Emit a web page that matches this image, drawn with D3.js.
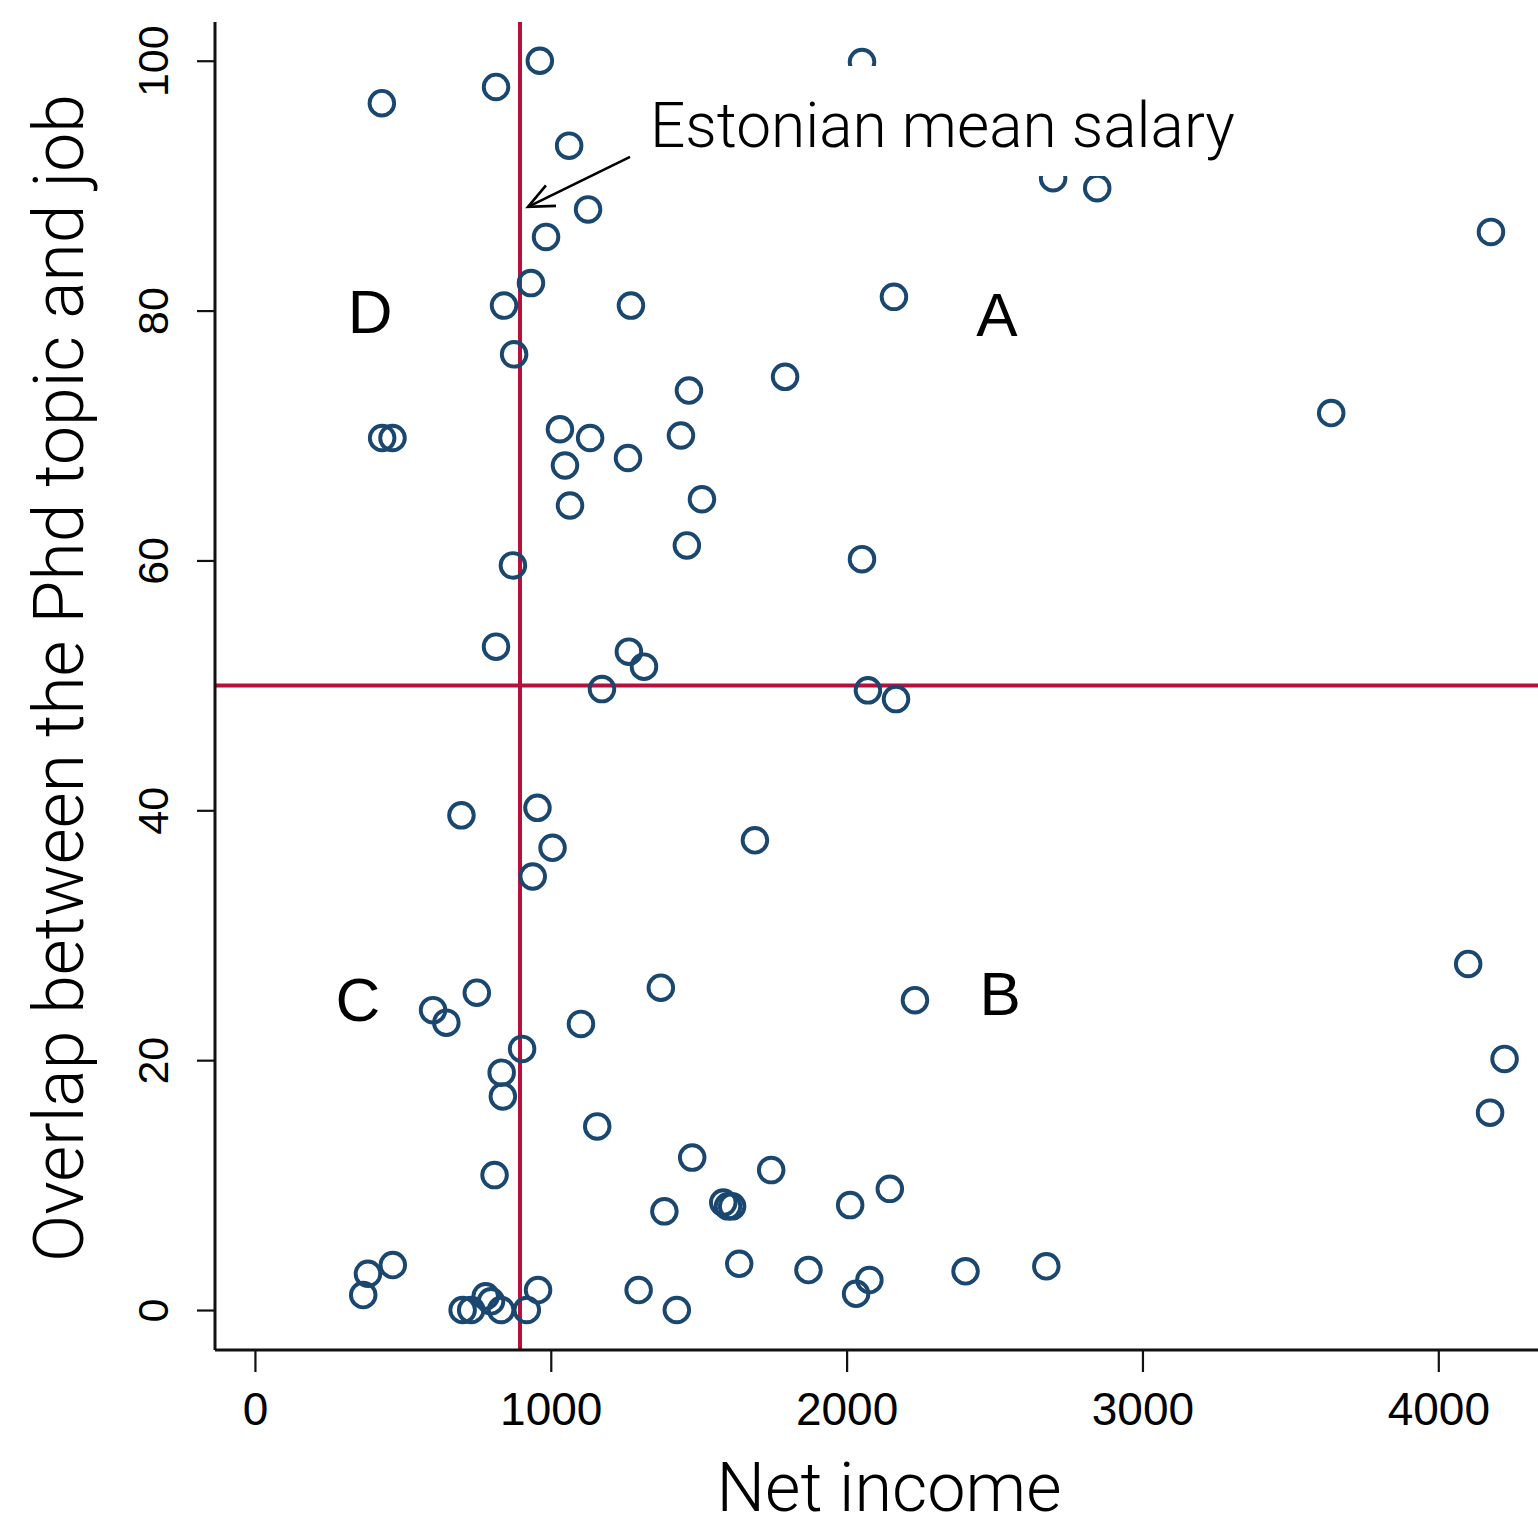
<!DOCTYPE html>
<html>
<head>
<meta charset="utf-8">
<script src="https://cdn.jsdelivr.net/npm/d3@7"></script>
<style>
  html, body { margin: 0; padding: 0; background: #fff; }
  svg { display: block; }
</style>
</head>
<body>
<svg id="chart" width="1538" height="1533"></svg>
<script>
// ---- data ----
const netIncome = [
  429, 815, 963, 2052, 1062, 2698, 2847, 1126, 984, 4178,
  933, 842, 1271, 2160, 876, 1792, 1467, 3638, 430, 465,
  1031, 1133, 1440, 1261, 1048, 1511, 1065, 1460, 2052, 872,
  815, 1264, 1315, 1173, 2072, 2167,
  698, 955, 1006, 939, 1690, 602, 647, 750, 1372, 1102,
  903, 834, 838, 2231, 4101, 4224, 4175, 1157, 810, 1478,
  1384, 1583, 1599, 1613, 1745, 2012, 2146, 1637, 1871, 2077,
  2032, 2402, 2675, 466, 382, 366, 702, 731, 780, 798,
  832, 919, 957, 1297, 1426
];
const overlap = [
  96.6, 97.9, 100, 99.9, 93.2, 90.6, 89.8, 88.1, 85.9, 86.3,
  82.2, 80.4, 80.4, 81.1, 76.5, 74.7, 73.6, 71.8, 69.8, 69.8,
  70.5, 69.8, 70.0, 68.2, 67.6, 64.9, 64.4, 61.2, 60.1, 59.6,
  53.1, 52.7, 51.5, 49.7, 49.6, 48.9,
  39.6, 40.2, 37.0, 34.7, 37.6, 24.0, 23.0, 25.4, 25.8, 22.9,
  20.9, 19.0, 17.1, 24.8, 27.7, 20.1, 15.8, 14.7, 10.8, 12.2,
  7.9, 8.6, 8.3, 8.3, 11.2, 8.4, 9.7, 3.7, 3.2, 2.4,
  1.3, 3.1, 3.5, 3.6, 2.9, 1.2, 0, 0, 1.1, 0.7,
  0, 0, 1.6, 1.6, 0
];
const xTicks = [0, 1000, 2000, 3000, 4000];
const yTicks = [0, 20, 40, 60, 80, 100];
const meanSalary = 896;      // vertical reference line
const overlapCut = 50;       // horizontal reference line
const quadrantLabels = ["D", "A", "C", "B"];
const quadrantX = [389, 2508, 348, 2519];
const quadrantY = [78.2, 78.0, 23.1, 23.6];
const annotationText = "Estonian mean salary";
const arrowFrom = [1268, 92.3];
const arrowTo = [923, 88.3];

// ---- chart ----
const svg = d3.select("#chart");
const x = d3.scaleLinear().domain([-135, 4337]).range([215, 1538]);
const y = d3.scaleLinear().domain([-3.2, 103.1]).range([1350, 22]);

const navy = "#1a476f";
const red = "#b80f3c";

function fit(t, target) {
  const w = t.node().getComputedTextLength();
  const fs = parseFloat(t.style("font-size"));
  t.style("font-size", (fs * target / w) + "px");
}

// reference lines
svg.append("line")
  .attr("x1", x(meanSalary)).attr("x2", x(meanSalary))
  .attr("y1", y.range()[1]).attr("y2", y.range()[0])
  .attr("stroke", red).attr("stroke-width", 4);
svg.append("line")
  .attr("x1", x.range()[0]).attr("x2", x.range()[1])
  .attr("y1", y(overlapCut)).attr("y2", y(overlapCut))
  .attr("stroke", red).attr("stroke-width", 4);

// points
const pts = netIncome.map((v, i) => ({ x: v, y: overlap[i] }));
svg.append("g").selectAll("circle").data(pts).enter().append("circle")
  .attr("cx", d => x(d.x)).attr("cy", d => y(d.y))
  .attr("r", 12.3)
  .attr("fill", "none")
  .attr("stroke", navy)
  .attr("stroke-width", 3.9);

// axes
const xAxis = d3.axisBottom(x).tickValues(xTicks).tickSize(22).tickPadding(20).tickFormat(d3.format("d"));
const gx = svg.append("g").attr("transform", `translate(0,${y.range()[0]})`).call(xAxis);
gx.select(".domain").attr("stroke", "#111").attr("stroke-width", 3).attr("d", `M${x.range()[0]},0H${x.range()[1]}`);
gx.selectAll(".tick line").attr("stroke", "#111").attr("stroke-width", 2.2);
gx.selectAll(".tick text").attr("fill", "#000")
  .style("font-family", "'Liberation Sans', Arial, sans-serif").style("font-size", "46px");

const yAxis = d3.axisLeft(y).tickValues(yTicks).tickSize(18).tickPadding(0).tickFormat(d3.format("d"));
const gy = svg.append("g").attr("transform", `translate(${x.range()[0]},0)`).call(yAxis);
gy.select(".domain").attr("stroke", "#111").attr("stroke-width", 3).attr("d", `M0,${y.range()[0]}V${y.range()[1]}`);
gy.selectAll(".tick line").attr("stroke", "#111").attr("stroke-width", 2.2);
gy.selectAll(".tick text")
  .attr("x", 0).attr("y", 0)
  .attr("text-anchor", "middle")
  .attr("transform", "translate(-62,0) rotate(-90)")
  .attr("dy", "0.35em")
  .attr("fill", "#000")
  .style("font-family", "'Liberation Sans', Arial, sans-serif").style("font-size", "43px");

// quadrant labels
svg.append("g").selectAll("text").data(quadrantLabels).enter().append("text")
  .attr("x", (d, i) => x(quadrantX[i]))
  .attr("y", (d, i) => y(quadrantY[i]))
  .attr("text-anchor", "middle")
  .style("font-family", "'Liberation Sans', Arial, sans-serif")
  .style("font-size", "62px")
  .attr("fill", "#000")
  .text(d => d);

// annotation: white box + text + arrow
const ann = svg.append("g");
ann.append("rect").attr("fill", "#fff")
  .attr("x", 640).attr("y", 66).attr("width", 610).attr("height", 110);
const annText = ann.append("text")
  .attr("x", 650).attr("y", 147)
  .style("font-family", "Roboto, 'Liberation Sans', sans-serif")
  .style("font-weight", 300)
  .style("font-size", "60px")
  .attr("fill", "#000")
  .text(annotationText);
fit(annText, 585);

const fx = x(arrowFrom[0]), fy = y(arrowFrom[1]);
const tx = x(arrowTo[0]), ty = y(arrowTo[1]);
ann.append("line").attr("x1", fx).attr("y1", fy).attr("x2", tx).attr("y2", ty)
  .attr("stroke", "#000").attr("stroke-width", 2.6);
const ang = Math.atan2(fy - ty, fx - tx);
const hl = 28, spread = 0.42;
ann.append("path")
  .attr("d", `M${tx + hl * Math.cos(ang + spread)},${ty + hl * Math.sin(ang + spread)}L${tx},${ty}L${tx + hl * Math.cos(ang - spread)},${ty + hl * Math.sin(ang - spread)}`)
  .attr("fill", "none").attr("stroke", "#000").attr("stroke-width", 2.6);

// axis titles
const xt = svg.append("text")
  .attr("x", 889).attr("y", 1511)
  .attr("text-anchor", "middle")
  .style("font-family", "Roboto, 'Liberation Sans', sans-serif")
  .style("font-weight", 300)
  .style("font-size", "64px")
  .attr("fill", "#000")
  .text("Net income");
fit(xt, 345);

const yt = svg.append("text")
  .attr("transform", "translate(83,678) rotate(-90)")
  .attr("text-anchor", "middle")
  .style("font-family", "Roboto, 'Liberation Sans', sans-serif")
  .style("font-weight", 300)
  .style("font-size", "64px")
  .attr("fill", "#000")
  .text("Overlap between the Phd topic and job");
fit(yt, 1168);
</script>
</body>
</html>
